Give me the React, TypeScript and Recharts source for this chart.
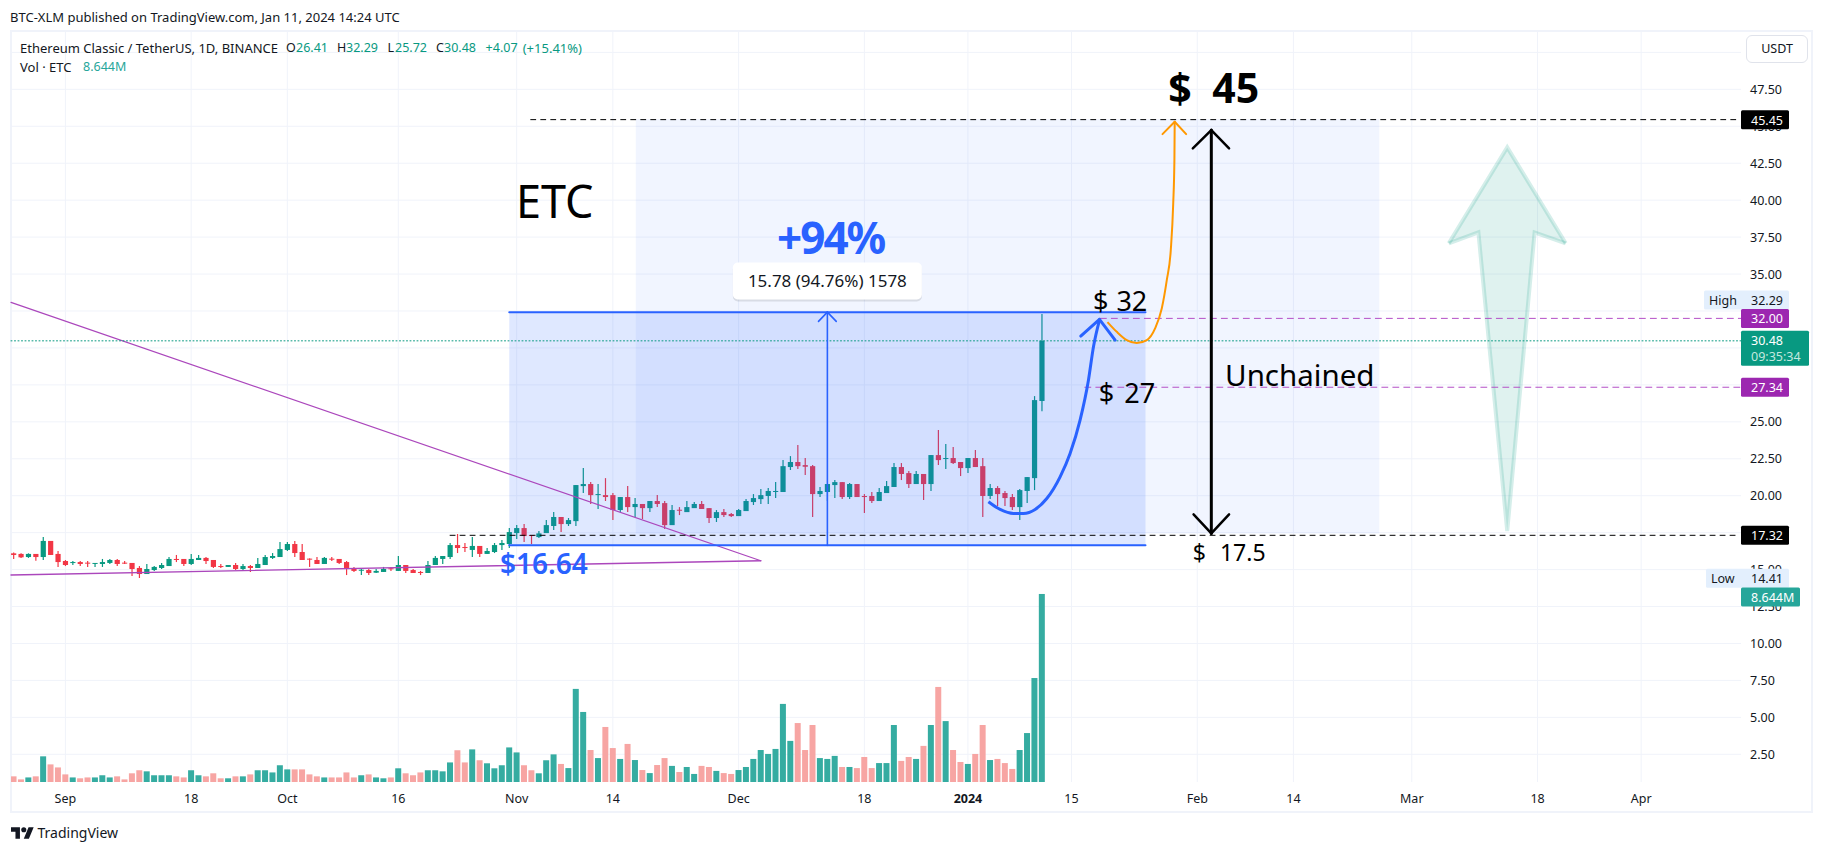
import React from "react";
import { ComposedChart, Bar, Line, Area, XAxis, YAxis, CartesianGrid, ReferenceArea, ReferenceLine, ReferenceDot } from "recharts";

const FONT = '"Noto Sans", sans-serif';
const firstDay = -7;
const opens = [16.10,16.06,15.85,16.06,15.85,16.94,16.06,15.58,15.45,15.51,15.47,15.42,15.38,15.45,15.65,15.47,15.45,15.11,14.70,14.97,15.11,15.24,15.72,15.72,15.38,15.65,15.79,15.65,15.24,15.18,15.31,15.04,15.24,15.11,15.31,15.79,15.85,16.33,16.73,16.19,15.74,15.65,15.38,15.74,15.72,15.51,15.04,14.97,14.97,14.79,14.84,15.09,14.91,15.31,14.97,14.84,14.77,15.31,15.72,15.85,16.66,16.53,16.33,16.60,16.06,16.19,16.66,16.73,17.47,17.81,17.34,17.20,17.47,17.95,18.56,18.08,18.28,20.65,20.79,20.09,20.04,20.04,19.03,19.91,19.23,19.44,19.16,19.64,19.50,18.01,19.05,18.89,19.16,19.44,19.16,18.49,18.89,18.76,18.62,18.96,19.57,19.77,19.98,20.27,20.25,21.94,22.28,22.07,22.00,20.11,20.25,20.72,20.92,19.91,20.79,19.98,19.98,19.64,20.18,20.59,21.94,21.53,20.79,21.47,20.79,22.75,22.50,22.55,22.28,21.87,22.55,22.00,19.98,20.52,20.18,19.91,19.23,20.32,21.19,26.41];
const highs = [16.15,16.10,16.10,16.06,17.21,16.94,16.26,15.65,15.58,15.58,15.58,15.45,15.72,15.72,15.72,15.58,15.45,15.24,15.38,15.24,15.45,15.85,15.99,15.72,16.06,15.99,15.85,15.65,15.38,15.31,15.45,15.38,15.31,15.79,15.99,16.12,16.87,16.87,16.94,16.73,15.76,15.85,15.85,15.85,15.72,15.58,15.18,15.04,15.04,15.04,15.18,15.18,15.92,15.31,15.04,14.91,15.58,15.92,15.92,16.80,17.41,16.80,17.21,16.60,16.46,16.80,17.00,17.82,18.01,18.08,17.34,17.61,18.35,18.89,18.56,18.49,20.72,21.87,20.92,20.79,21.19,20.18,19.91,20.65,19.84,19.44,19.64,20.04,19.64,19.37,19.23,19.64,19.57,19.64,19.16,19.03,19.10,18.83,19.10,19.77,20.11,20.45,20.52,20.92,22.41,22.68,23.43,22.55,22.07,20.59,20.79,21.06,20.92,20.86,20.79,20.11,20.25,20.52,20.99,22.21,22.21,21.67,21.67,21.47,22.75,24.44,23.50,23.29,22.28,22.55,23.09,22.55,20.79,20.65,20.32,20.11,20.45,21.26,26.74,32.29];
const lows = [15.72,15.79,15.79,15.60,15.65,15.99,15.18,15.24,15.31,15.24,15.18,15.18,15.18,15.38,15.24,15.38,14.57,14.43,14.70,14.91,15.04,15.24,15.51,15.24,15.31,15.65,15.38,15.11,15.11,15.18,14.97,14.97,14.84,15.11,15.31,15.72,15.85,16.26,15.85,15.65,15.18,15.38,15.38,15.58,15.38,14.63,14.84,14.63,14.63,14.77,14.84,14.91,14.91,14.77,14.77,14.63,14.77,15.31,15.38,15.72,16.12,16.19,15.85,15.85,16.06,16.12,16.33,16.46,17.07,16.86,16.73,17.13,17.47,17.68,17.54,17.95,17.95,20.18,19.44,19.10,19.64,18.35,18.89,18.89,18.56,18.42,18.89,19.23,17.74,18.01,18.69,18.89,19.16,19.10,18.15,18.22,18.56,18.56,18.62,18.96,19.37,19.44,19.44,19.84,20.25,21.74,21.80,21.40,18.56,19.91,19.64,19.84,19.77,19.77,19.91,18.83,19.50,19.64,20.18,20.59,21.06,20.52,20.79,19.71,20.32,22.07,21.80,22.14,21.33,21.53,21.94,18.56,19.77,19.30,19.30,19.03,18.35,19.50,20.38,25.72];
const closes = [15.99,15.83,16.06,15.85,16.94,15.99,15.51,15.31,15.51,15.38,15.42,15.45,15.51,15.65,15.38,15.42,15.04,14.70,15.04,15.18,15.31,15.72,15.65,15.38,15.72,15.79,15.58,15.18,15.18,15.31,15.04,15.24,15.11,15.38,15.85,15.92,16.39,16.73,16.12,15.65,15.69,15.38,15.79,15.67,15.45,15.11,14.91,14.99,14.77,14.91,15.04,15.02,15.31,14.91,14.77,14.79,15.31,15.79,15.92,16.66,16.46,16.46,16.60,16.06,16.26,16.66,16.80,17.54,17.81,17.27,17.31,17.45,18.01,18.56,18.08,18.35,20.72,20.79,20.04,20.11,19.91,19.03,19.91,19.23,19.44,19.16,19.64,19.44,18.01,19.03,19.01,19.23,19.44,19.10,18.49,18.89,18.69,18.62,19.03,19.64,19.84,20.04,20.32,20.32,22.00,22.28,22.00,21.96,20.11,20.32,20.79,20.92,19.91,20.79,19.91,19.91,19.64,20.25,20.65,21.94,21.47,20.79,21.47,20.79,22.75,22.41,22.55,22.21,21.87,22.55,21.94,19.98,20.52,20.11,19.84,19.23,20.38,21.26,26.47,30.48];
const volumes = [0.26,0.12,0.21,0.26,1.18,0.81,0.67,0.35,0.21,0.17,0.21,0.21,0.31,0.21,0.26,0.12,0.40,0.54,0.49,0.31,0.31,0.31,0.26,0.21,0.54,0.31,0.26,0.40,0.17,0.17,0.26,0.26,0.35,0.54,0.54,0.44,0.77,0.58,0.58,0.58,0.35,0.26,0.21,0.21,0.21,0.44,0.21,0.31,0.35,0.21,0.17,0.21,0.63,0.40,0.31,0.44,0.54,0.54,0.49,0.90,1.46,0.90,1.50,1.00,0.86,0.63,0.77,1.59,1.36,0.77,0.54,0.40,1.00,1.27,0.83,0.64,4.28,3.22,1.47,1.10,2.53,1.56,1.06,1.75,1.01,0.55,0.41,0.78,1.10,0.74,0.46,0.69,0.37,0.74,0.69,0.51,0.41,0.37,0.55,0.69,1.06,1.47,1.29,1.52,3.59,1.89,2.71,1.47,2.62,1.10,1.06,1.20,0.69,0.69,0.64,1.15,0.64,0.87,0.87,2.62,0.97,1.15,1.06,1.66,2.62,4.37,2.80,1.47,0.92,0.83,1.29,2.62,1.01,1.06,0.87,0.60,1.47,2.25,4.78,8.644];

const candles = opens.map((o, i) => ({ d: firstDay + i, o, h: highs[i], l: lows[i], c: closes[i], range: [lows[i], highs[i]], vol: volumes[i] }));

const priceTicks = [2.5,5,7.5,10,12.5,15,17.5,20,22.5,25,27.5,30,32.5,35,37.5,40,42.5,45,47.5,50];
const timeTickDays = [0,17,30,45,61,74,91,108,122,136,153,166,182,199,213];
const timeTickLabels = ["Sep","18","Oct","16","Nov","14","Dec","18","2024","15","Feb","14","Mar","18","Apr"];

const blueDays = [124.77,126.35,128.15,129.5,131.08,132.66,134.46,135.81,137.16,138.29,138.97,139.78];
const bluePrices = [19.59,19.07,18.8,18.8,19.07,19.81,21.28,22.86,25.12,27.82,30.08,31.88];
const orangeDays = [140.86,142.12,143.47,144.82,146.18,147.3,148.2,148.88,149.42,149.75,149.91,149.95];
const orangePrices = [31.75,31.09,30.53,30.33,30.53,31.32,32.67,34.59,36.62,39.78,42.71,45.31];
const blueCurve = blueDays.map((d, i) => ({ d, v: bluePrices[i] }));
const orangeCurve = orangeDays.map((d, i) => ({ d, v: orangePrices[i] }));

const arrowDays = [187, 191, 194.9, 198.6, 202.8];
const arrowLows = [37.08, 37.82, 17.61, 37.82, 37.08];
const arrowHighs = [37.08, 40.37, 43.57, 40.53, 37.08];
const bigArrow = arrowDays.map((d, i) => ({ d, band: [arrowLows[i], arrowHighs[i]] }));

const tagValues = [45.45, 32.29, 32, 30.48, 27.34, 17.32, 14.41, 13.14];

const DMIN = -7.354, DMAX = 226.5;
const BLUE = "#2962ff", PURPLE = "#ab47bc";
const AXIS_RIGHT = 1741;

function CandleShape(p: any) {
  const { x, y, width, height, payload } = p;
  const k = height / (payload.h - payload.l);
  const cx = x + width / 2;
  const up = payload.c >= payload.o;
  const col = up ? "#089981" : "#f23645";
  const top = y + (payload.h - Math.max(payload.o, payload.c)) * k;
  const bh = Math.max(1, Math.abs(payload.o - payload.c) * k);
  return <g><line x1={cx} x2={cx} y1={y} y2={y + height} stroke={col} strokeWidth={1.2} /><rect x={cx - 2.6} width={5.2} y={top} height={bh} fill={col} /></g>;
}
function VolShape(p: any) {
  const { x, y, width, height, payload } = p;
  const cx = x + width / 2;
  return <rect x={cx - 3} y={y} width={6} height={height} fill={payload.c >= payload.o ? "#26a69a" : "#f7a5a3"} fillOpacity={payload.c >= payload.o ? 0.93 : 1} />;
}
function PriceTick(p: any) {
  const { x, y, payload } = p;
  if (payload.value === 50) return null;
  return <text x={x} y={y} dominantBaseline="central" fontFamily={FONT} fontSize={12.5} fill="#131722">{payload.value.toFixed(2)}</text>;
}
function TimeTick(p: any) {
  const { x, payload } = p;
  const label = timeTickLabels[timeTickDays.indexOf(payload.value)];
  return <text x={x} y={798} textAnchor="middle" dominantBaseline="central" fontFamily={FONT} fontSize={12.5} fontWeight={label === "2024" ? 700 : 400} fill="#131722">{label}</text>;
}
function TagTick(p: any) {
  const { y, payload } = p;
  const X = AXIS_RIGHT, v = payload.value;
  const txt = (tx: number, ty: number, s: string, fill: string) => (
    <text x={tx} y={ty} dominantBaseline="central" fontFamily={FONT} fontSize={12.5} fill={fill}>{s}</text>
  );
  if (v === 32.29 || v === 14.41) {
    const wd = v === 32.29 ? 85 : 83;
    const ty = v === 32.29 ? y - 14 : y;
    return <g>
      <rect x={X + 48 - wd} y={ty - 9.5} width={wd} height={19} rx={1.5} fill="#e3effd" />
      {txt(X + 48 - wd + 5, ty, v === 32.29 ? "High" : "Low", "#131722")}
      {txt(X + 10, ty, v.toFixed(2), "#131722")}
    </g>;
  }
  if (v === 30.48) {
    return <g>
      <rect x={X} y={y - 10} width={68} height={35} rx={1.5} fill="#089981" />
      {txt(X + 10, y, "30.48", "#fff")}
      {txt(X + 10, y + 16, "09:35:34", "#c4e8df")}
    </g>;
  }
  if (v === 13.14) {
    return <g>
      <rect x={X} y={y - 9.5} width={59} height={19} rx={1.5} fill="#26a69a" />
      {txt(X + 10, y, "8.644M", "#fff")}
    </g>;
  }
  const bg = v === 32 || v === 27.34 ? "#9c27b0" : "#000";
  return <g>
    <rect x={X} y={y - 9.5} width={48} height={19} rx={1.5} fill={bg} />
    {txt(X + 10, y + 0.5, v.toFixed(2), "#fff")}
  </g>;
}

const seg = (a: number, b: number, c: number, e: number, stroke: string, w: number, dash?: string) => (
  <ReferenceLine key={`${a}-${b}-${c}-${e}`} yAxisId="price" segment={[{ x: a, y: b }, { x: c, y: e }]} stroke={stroke} strokeWidth={w} strokeDasharray={dash} strokeLinecap="round" ifOverflow="visible" />
);

const notes = [
  { d: 60.9, v: 40.0, t: "ETC", s: 45, w: 400, c: "#000", ws: 0, ls: 0 },
  { d: 149.07, v: 47.65, t: "$ 45", s: 41, w: 700, c: "#000", ws: 10, ls: 0 },
  { d: 138.9, v: 33.24, t: "$ 32", s: 27, w: 400, c: "#000", ws: 1, ls: 0 },
  { d: 139.7, v: 27.0, t: "$ 27", s: 27, w: 400, c: "#000", ws: 3, ls: 0 },
  { d: 156.76, v: 28.23, t: "Unchained", s: 29.5, w: 400, c: "#000", ws: 0, ls: 0 },
  { d: 152.4, v: 16.19, t: "$ 17.5", s: 23, w: 400, c: "#000", ws: 8, ls: 0 },
  { d: 96.2, v: 37.5, t: "+94%", s: 44, w: 700, c: BLUE, ws: 0, ls: -2 },
  { d: 58.75, v: 15.44, t: "$16.64", s: 28, w: 600, c: BLUE, ws: 0, ls: 0 },
];

const abs = (left: number, top: number, color: string, text: string, size = 12.5): React.ReactNode => (
  <span key={left + "_" + top} style={{ position: "absolute", left, top: top - 10, lineHeight: "20px", fontSize: size, color, whiteSpace: "nowrap" }}>{text}</span>
);

export default function App() {
  const G = "#089981", K = "#131722";
  return (
    <div style={{ position: "absolute", left: 0, top: 0, width: 1824, height: 853, background: "#fff", fontFamily: FONT, overflow: "hidden" }}>
      <div style={{ position: "absolute", left: 10, top: 30, width: 1799, height: 779, border: "2px solid #f0f3fa" }} />
      <ComposedChart width={1824} height={853} data={candles} margin={{ left: 11, top: 32, right: 12, bottom: 41 }} style={{ position: "absolute", left: 0, top: 0 }}>
        <CartesianGrid stroke="#f0f3fa" strokeWidth={1} syncWithTicks yAxisId="price" />
        <XAxis dataKey="d" type="number" domain={[DMIN, DMAX]} allowDataOverflow ticks={timeTickDays} interval={0} height={30} axisLine={false} tickLine={false} tick={TimeTick} />
        <YAxis yAxisId="price" orientation="right" type="number" domain={[0.626, 51.38]} allowDataOverflow ticks={priceTicks} interval={0} width={70} axisLine={false} tickLine={false} tickSize={0} tickMargin={9} tick={PriceTick} />
        <YAxis yAxisId="vol" hide orientation="left" type="number" domain={[0, 34.48]} allowDataOverflow />
        <YAxis yAxisId="tags" orientation="right" type="number" domain={[0.626, 51.38]} allowDataOverflow ticks={tagValues} interval={0} width={1} axisLine={false} tickLine={false} tickSize={0} tick={TagTick} />

        <Bar yAxisId="vol" dataKey="vol" barSize={6} shape={VolShape} isAnimationActive={false} />
        <Bar yAxisId="price" dataKey="range" barSize={6} shape={CandleShape} isAnimationActive={false} />

        <ReferenceArea {...({ zIndex: 350 } as any)} yAxisId="price" x1={60} x2={146} y1={16.64} y2={32.42} fill={BLUE} fillOpacity={0.15} stroke="none" ifOverflow="visible" />
        <ReferenceArea {...({ zIndex: 350 } as any)} yAxisId="price" x1={77.1} x2={177.6} y1={17.45} y2={45.5} fill={BLUE} fillOpacity={0.065} stroke="none" ifOverflow="visible" />

        <Area yAxisId="price" data={bigArrow} dataKey="band" type="linear" stroke="#089981" strokeOpacity={0.17} strokeWidth={4} fill="#089981" fillOpacity={0.13} isAnimationActive={false} dot={false} activeDot={false} />

        {seg(DMIN, 33.08, 94, 15.6, PURPLE, 1.2)}
        {seg(DMIN, 14.63, 94, 15.6, PURPLE, 1.4)}

        {seg(DMIN, 30.48, DMAX, 30.48, "#089981", 1, "1 2.5")}
        {seg(62.9, 45.45, DMAX - 0.7, 45.45, "#000", 1, "5 5")}
        {seg(52, 17.32, DMAX - 0.7, 17.32, "#000", 1, "5 5")}
        {seg(139.9, 32, DMAX, 32, "#b44fc6", 1, "6 5")}
        {seg(137.8, 27.34, DMAX, 27.34, "#b44fc6", 1, "6 5")}

        {seg(60, 32.42, 146, 32.42, BLUE, 2)}
        {seg(60, 16.64, 146, 16.64, BLUE, 2)}
        {seg(103, 16.64, 103, 32.42, BLUE, 1.6)}
        {seg(103, 32.42, 101.8, 31.8, BLUE, 1.6)}
        {seg(103, 32.42, 104.2, 31.8, BLUE, 1.6)}

        <Line yAxisId="price" data={blueCurve} dataKey="v" type="monotone" stroke={BLUE} strokeWidth={3} dot={false} activeDot={false} isAnimationActive={false} />
        {seg(139.78, 31.93, 137.25, 30.8, BLUE, 3)}
        {seg(139.78, 31.93, 141.9, 30.53, BLUE, 3)}

        <Line yAxisId="price" data={orangeCurve} dataKey="v" type="monotone" stroke="#ff9800" strokeWidth={2} dot={false} activeDot={false} isAnimationActive={false} />
        {seg(149.95, 45.31, 148.3, 44.47, "#ff9800", 2)}
        {seg(149.95, 45.31, 151.5, 44.47, "#ff9800", 2)}

        {seg(154.9, 17.45, 154.9, 44.74, "#000", 3)}
        {seg(154.9, 44.74, 152.4, 43.5, "#000", 2.5)}
        {seg(154.9, 44.74, 157.3, 43.5, "#000", 2.5)}
        {seg(154.9, 17.45, 152.5, 18.74, "#000", 2.5)}
        {seg(154.9, 17.45, 157.3, 18.74, "#000", 2.5)}

        {notes.map((n) => (
          <ReferenceDot key={n.t} yAxisId="price" x={n.d} y={n.v} r={0} ifOverflow="visible" shape={(p: any) => (
            <text x={p.cx} y={p.cy} dominantBaseline="central" fontFamily={FONT} fontSize={n.s} fontWeight={n.w} fill={n.c} wordSpacing={n.ws} letterSpacing={n.ls}>{n.t}</text>
          )} />
        ))}

        <ReferenceDot yAxisId="price" x={103} y={34.53} r={0} ifOverflow="visible" shape={(p: any) => (
          <g>
            <rect x={p.cx - 94.5} y={p.cy - 18} width={189} height={37} rx={5} fill="#000" fillOpacity={0.1} transform="translate(0,1.5)" />
            <rect x={p.cx - 94.5} y={p.cy - 18.5} width={189} height={37} rx={5} fill="#fff" />
            <text x={p.cx} y={p.cy} textAnchor="middle" dominantBaseline="central" fontFamily={FONT} fontSize={17} fill="#131722">15.78 (94.76%) 1578</text>
          </g>
        )} />
      </ComposedChart>

      {abs(10, 17, K, "BTC-XLM published on TradingView.com, Jan 11, 2024 14:24 UTC", 13)}
      {abs(20, 47.5, K, "Ethereum Classic / TetherUS, 1D, BINANCE", 13)}
      {abs(286, 47.5, K, "O")}{abs(296, 47.5, G, "26.41")}
      {abs(337, 47.5, K, "H")}{abs(346, 47.5, G, "32.29")}
      {abs(387.5, 47.5, K, "L")}{abs(395, 47.5, G, "25.72")}
      {abs(436, 47.5, K, "C")}{abs(444, 47.5, G, "30.48")}
      {abs(485.6, 47.5, G, "+4.07")}{abs(522.7, 47.5, G, "(+15.41%)", 13)}
      {abs(20, 66.7, K, "Vol · ETC", 13)}{abs(83, 66.7, "#26a69a", "8.644M")}
      <div style={{ position: "absolute", left: 1746, top: 35, width: 60, height: 26, border: "1.5px solid #e0e3eb", borderRadius: 6, textAlign: "center", lineHeight: "26px", fontSize: 12.5, color: K }}>USDT</div>
      <svg style={{ position: "absolute", left: 11, top: 826 }} width={23} height={14} viewBox="0 4 36 18"><path d="M14 22H7V11H0V4h14v18zM28 22h-8l7.5-18h8L28 22z" fill="#131722" /><circle cx={20} cy={8} r={4} fill="#131722" /></svg>
      {abs(37.5, 833, "#131722", "TradingView", 14)}
    </div>
  );
}
